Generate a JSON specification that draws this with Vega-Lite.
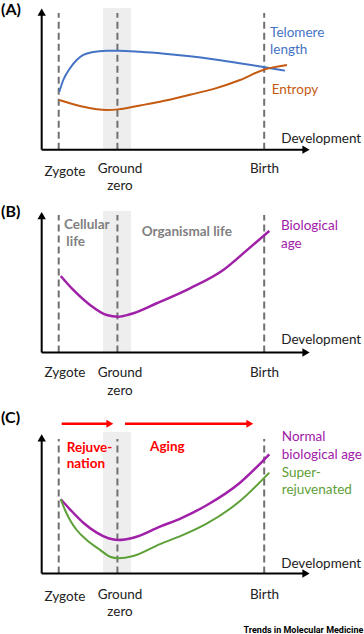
{
  "$schema": "https://vega.github.io/schema/vega-lite/v6.json",
  "padding": 0,
  "spacing": 0,
  "background": "white",
  "config": {"view": {"stroke": null}, "font": "Lato", "text": {"font": "Lato"}},
  "resolve": {"scale": {"x": "independent", "y": "independent", "shape": "independent"}},
  "vconcat": [
    {
      "width": 364, "height": 200,
      "encoding": {
        "x": {"field": "x", "type": "quantitative", "scale": {"domain": [-1, 5.2], "nice": false, "zero": false}, "axis": null},
        "y": {"field": "y", "type": "quantitative", "scale": {"domain": [-3.6, 10.7], "nice": false, "zero": false}, "axis": null}
      },
      "layer": [
        {"data": {"values": [{"x": 0.754, "x2": 1.231, "y": 0, "y2": 10.13}]},
         "mark": {"type": "rect", "color": "#EEEEEE"},
         "encoding": {"x2": {"field": "x2"}, "y2": {"field": "y2"}}},
        {"data": {"values": [{"x": 0, "y": 0, "y2": 9.77}, {"x": 1, "y": 0, "y2": 9.77}, {"x": 3.5, "y": 0, "y2": 9.77}]},
         "mark": {"type": "rule", "color": "#707070", "strokeWidth": 2, "strokeDash": [7, 4]},
         "encoding": {"y2": {"field": "y2"}}},
        {"data": {"values": [{"x": -0.29, "x2": -0.29, "y": 0, "y2": 9.84}, {"x": -0.29, "x2": 4.212, "y": 0, "y2": 0}]},
         "mark": {"type": "rule", "color": "black", "strokeWidth": 2},
         "encoding": {"x2": {"field": "x2"}, "y2": {"field": "y2"}}},
        {"data": {"values": [{"x": -0.29, "y": 9.84, "dir": "up"}, {"x": 4.212, "y": 0, "dir": "right"}]},
         "mark": {"type": "point", "filled": true, "color": "black", "opacity": 1, "size": 70},
         "encoding": {"shape": {"field": "dir", "type": "nominal", "scale": {"domain": ["up", "right"], "range": ["triangle-up", "triangle-right"]}, "legend": null}}},
        {"data": {"values": [
          {"x": 0.01, "y": 4.14}, {"x": 0.078, "y": 4.98}, {"x": 0.192, "y": 5.82}, {"x": 0.306, "y": 6.41},
          {"x": 0.419, "y": 6.77}, {"x": 0.589, "y": 6.98}, {"x": 0.817, "y": 7.07}, {"x": 1.015, "y": 7.08},
          {"x": 1.385, "y": 7.0}, {"x": 1.8, "y": 6.86}, {"x": 2.236, "y": 6.67}, {"x": 2.628, "y": 6.46},
          {"x": 3.08, "y": 6.18}, {"x": 3.48, "y": 5.91}, {"x": 3.854, "y": 5.65}]},
         "mark": {"type": "line", "color": "#4472C4", "strokeWidth": 2, "interpolate": "monotone"}},
        {"data": {"values": [
          {"x": 0.01, "y": 3.55}, {"x": 0.419, "y": 3.07}, {"x": 0.817, "y": 2.84}, {"x": 1.015, "y": 2.88},
          {"x": 1.385, "y": 3.16}, {"x": 1.725, "y": 3.43}, {"x": 2.236, "y": 3.93}, {"x": 2.628, "y": 4.33},
          {"x": 3.088, "y": 4.98}, {"x": 3.48, "y": 5.7}, {"x": 3.888, "y": 6.05}]},
         "mark": {"type": "line", "color": "#C55A11", "strokeWidth": 2, "interpolate": "monotone"}},
        {"data": {"values": [{"x": -0.983, "y": 9.63, "t": "(A)"}]},
         "mark": {"type": "text", "align": "left", "baseline": "alphabetic", "fontSize": 16, "fontWeight": "bold", "color": "black"},
         "encoding": {"text": {"field": "t"}}},
        {"data": {"values": [{"x": 3.6, "y": 8.08, "t": "Telomere"}, {"x": 3.6, "y": 6.84, "t": "length"}]},
         "mark": {"type": "text", "align": "left", "baseline": "alphabetic", "fontSize": 13.5, "color": "#4472C4"},
         "encoding": {"text": {"field": "t"}}},
        {"data": {"values": [{"x": 3.628, "y": 4.0, "t": "Entropy"}]},
         "mark": {"type": "text", "align": "left", "baseline": "alphabetic", "fontSize": 13.5, "color": "#C55A11"},
         "encoding": {"text": {"field": "t"}}},
        {"data": {"values": [{"x": 3.79, "y": 0.475, "t": "Development"}]},
         "mark": {"type": "text", "align": "left", "baseline": "alphabetic", "fontSize": 13.5, "color": "#222222"},
         "encoding": {"text": {"field": "t"}}},
        {"data": {"values": [{"x": 0.107, "y": -1.88, "t": "Zygote"}, {"x": 1.044, "y": -1.69, "t": "Ground"}, {"x": 1.044, "y": -2.88, "t": "zero"}, {"x": 3.505, "y": -1.69, "t": "Birth"}]},
         "mark": {"type": "text", "align": "center", "baseline": "alphabetic", "fontSize": 13.5, "color": "#222222"},
         "encoding": {"text": {"field": "t"}}}
      ]
    },
    {
      "width": 364, "height": 210,
      "encoding": {
        "x": {"field": "x", "type": "quantitative", "scale": {"domain": [-1, 5.2], "nice": false, "zero": false}, "axis": null},
        "y": {"field": "y", "type": "quantitative", "scale": {"domain": [-4.11, 10.9], "nice": false, "zero": false}, "axis": null}
      },
      "layer": [
        {"data": {"values": [{"x": 0.754, "x2": 1.231, "y": 0, "y2": 10.12}]},
         "mark": {"type": "rect", "color": "#EEEEEE"},
         "encoding": {"x2": {"field": "x2"}, "y2": {"field": "y2"}}},
        {"data": {"values": [{"x": 0, "y": 0, "y2": 9.83}, {"x": 1, "y": 0, "y2": 9.83}, {"x": 3.5, "y": 0, "y2": 9.83}]},
         "mark": {"type": "rule", "color": "#707070", "strokeWidth": 2, "strokeDash": [7, 4]},
         "encoding": {"y2": {"field": "y2"}}},
        {"data": {"values": [{"x": -0.29, "x2": -0.29, "y": 0, "y2": 9.78}, {"x": -0.29, "x2": 4.212, "y": 0, "y2": 0}]},
         "mark": {"type": "rule", "color": "black", "strokeWidth": 2},
         "encoding": {"x2": {"field": "x2"}, "y2": {"field": "y2"}}},
        {"data": {"values": [{"x": -0.29, "y": 9.78, "dir": "up"}, {"x": 4.212, "y": 0, "dir": "right"}]},
         "mark": {"type": "point", "filled": true, "color": "black", "opacity": 1, "size": 70},
         "encoding": {"shape": {"field": "dir", "type": "nominal", "scale": {"domain": ["up", "right"], "range": ["triangle-up", "triangle-right"]}, "legend": null}}},
        {"data": {"values": [
          {"x": 0.034, "y": 5.47}, {"x": 0.249, "y": 4.47}, {"x": 0.533, "y": 3.4}, {"x": 0.817, "y": 2.68},
          {"x": 1.015, "y": 2.56}, {"x": 1.214, "y": 2.73}, {"x": 1.669, "y": 3.52}, {"x": 2.236, "y": 4.59},
          {"x": 2.803, "y": 5.9}, {"x": 3.202, "y": 7.3}, {"x": 3.587, "y": 8.69}]},
         "mark": {"type": "line", "color": "#A020A8", "strokeWidth": 2.5, "interpolate": "monotone"}},
        {"data": {"values": [{"x": -0.983, "y": 9.69, "t": "(B)"}]},
         "mark": {"type": "text", "align": "left", "baseline": "alphabetic", "fontSize": 16, "fontWeight": "bold", "color": "black"},
         "encoding": {"text": {"field": "t"}}},
        {"data": {"values": [{"x": 0.09, "y": 8.83, "t": "Cellular"}, {"x": 0.13, "y": 7.64, "t": "life"}, {"x": 1.414, "y": 8.35, "t": "Organismal life"}]},
         "mark": {"type": "text", "align": "left", "baseline": "alphabetic", "fontSize": 13.5, "fontWeight": "bold", "color": "#7F7F7F"},
         "encoding": {"text": {"field": "t"}}},
        {"data": {"values": [{"x": 3.786, "y": 8.76, "t": "Biological"}, {"x": 3.786, "y": 7.47, "t": "age"}]},
         "mark": {"type": "text", "align": "left", "baseline": "alphabetic", "fontSize": 13.5, "color": "#A020A8"},
         "encoding": {"text": {"field": "t"}}},
        {"data": {"values": [{"x": 3.79, "y": 0.61, "t": "Development"}]},
         "mark": {"type": "text", "align": "left", "baseline": "alphabetic", "fontSize": 13.5, "color": "#222222"},
         "encoding": {"text": {"field": "t"}}},
        {"data": {"values": [{"x": 0.107, "y": -1.77, "t": "Zygote"}, {"x": 1.044, "y": -1.73, "t": "Ground"}, {"x": 1.044, "y": -3.04, "t": "zero"}, {"x": 3.505, "y": -1.73, "t": "Birth"}]},
         "mark": {"type": "text", "align": "center", "baseline": "alphabetic", "fontSize": 13.5, "color": "#222222"},
         "encoding": {"text": {"field": "t"}}}
      ]
    },
    {
      "width": 364, "height": 224,
      "encoding": {
        "x": {"field": "x", "type": "quantitative", "scale": {"domain": [-1, 5.2], "nice": false, "zero": false}, "axis": null},
        "y": {"field": "y", "type": "quantitative", "scale": {"domain": [-4.4, 11.62], "nice": false, "zero": false}, "axis": null}
      },
      "layer": [
        {"data": {"values": [{"x": 0.754, "x2": 1.231, "y": 0, "y2": 10.12}]},
         "mark": {"type": "rect", "color": "#EEEEEE"},
         "encoding": {"x2": {"field": "x2"}, "y2": {"field": "y2"}}},
        {"data": {"values": [{"x": 0, "y": 0, "y2": 9.62}, {"x": 1, "y": 0, "y2": 9.62}, {"x": 3.5, "y": 0, "y2": 9.62}]},
         "mark": {"type": "rule", "color": "#707070", "strokeWidth": 2, "strokeDash": [7, 4]},
         "encoding": {"y2": {"field": "y2"}}},
        {"data": {"values": [{"x": -0.29, "x2": -0.29, "y": 0, "y2": 9.69}, {"x": -0.29, "x2": 4.212, "y": 0, "y2": 0}]},
         "mark": {"type": "rule", "color": "black", "strokeWidth": 2},
         "encoding": {"x2": {"field": "x2"}, "y2": {"field": "y2"}}},
        {"data": {"values": [{"x": -0.29, "y": 9.69, "dir": "up"}, {"x": 4.212, "y": 0, "dir": "right"}]},
         "mark": {"type": "point", "filled": true, "color": "black", "opacity": 1, "size": 70},
         "encoding": {"shape": {"field": "dir", "type": "nominal", "scale": {"domain": ["up", "right"], "range": ["triangle-up", "triangle-right"]}, "legend": null}}},
        {"data": {"values": [{"x": 0.051, "x2": 0.86, "y": 10.71, "y2": 10.71}, {"x": 1.129, "x2": 3.25, "y": 10.71, "y2": 10.71}]},
         "mark": {"type": "rule", "color": "#FF0000", "strokeWidth": 2.5},
         "encoding": {"x2": {"field": "x2"}, "y2": {"field": "y2"}}},
        {"data": {"values": [{"x": 0.871, "y": 10.71, "dir": "right"}, {"x": 3.255, "y": 10.71, "dir": "right"}]},
         "mark": {"type": "point", "filled": true, "color": "#FF0000", "opacity": 1, "size": 64},
         "encoding": {"shape": {"field": "dir", "type": "nominal", "scale": {"domain": ["up", "right"], "range": ["triangle-up", "triangle-right"]}, "legend": null}}},
        {"data": {"values": [
          {"x": 0.034, "y": 5.31}, {"x": 0.192, "y": 4.59}, {"x": 0.419, "y": 3.63}, {"x": 0.647, "y": 2.92},
          {"x": 0.845, "y": 2.52}, {"x": 1.015, "y": 2.4}, {"x": 1.27, "y": 2.56}, {"x": 1.725, "y": 3.35},
          {"x": 2.1, "y": 3.98}, {"x": 2.52, "y": 4.88}, {"x": 3.088, "y": 6.49}, {"x": 3.587, "y": 8.52}]},
         "mark": {"type": "line", "color": "#A020A8", "strokeWidth": 2.5, "interpolate": "monotone"}},
        {"data": {"values": [
          {"x": 0.034, "y": 5.31}, {"x": 0.107, "y": 4.54}, {"x": 0.192, "y": 3.83}, {"x": 0.306, "y": 3.11},
          {"x": 0.477, "y": 2.4}, {"x": 0.703, "y": 1.69}, {"x": 0.874, "y": 1.2}, {"x": 1.015, "y": 1.09},
          {"x": 1.27, "y": 1.25}, {"x": 1.725, "y": 2.1}, {"x": 2.1, "y": 2.72}, {"x": 2.52, "y": 3.56},
          {"x": 3.088, "y": 5.18}, {"x": 3.587, "y": 7.21}]},
         "mark": {"type": "line", "color": "#5EA038", "strokeWidth": 2, "interpolate": "monotone"}},
        {"data": {"values": [{"x": -0.983, "y": 10.76, "t": "(C)"}]},
         "mark": {"type": "text", "align": "left", "baseline": "alphabetic", "fontSize": 16, "fontWeight": "bold", "color": "black"},
         "encoding": {"text": {"field": "t"}}},
        {"data": {"values": [{"x": 0.136, "y": 8.7, "t": "Rejuve-"}, {"x": 0.136, "y": 7.52, "t": "nation"}, {"x": 1.555, "y": 8.76, "t": "Aging"}]},
         "mark": {"type": "text", "align": "left", "baseline": "alphabetic", "fontSize": 13.5, "fontWeight": "bold", "color": "#FF0000"},
         "encoding": {"text": {"field": "t"}}},
        {"data": {"values": [{"x": 3.8, "y": 9.47, "t": "Normal"}, {"x": 3.8, "y": 8.17, "t": "biological age"}]},
         "mark": {"type": "text", "align": "left", "baseline": "alphabetic", "fontSize": 13.5, "color": "#A020A8"},
         "encoding": {"text": {"field": "t"}}},
        {"data": {"values": [{"x": 3.8, "y": 6.92, "t": "Super-"}, {"x": 3.8, "y": 5.66, "t": "rejuvenated"}]},
         "mark": {"type": "text", "align": "left", "baseline": "alphabetic", "fontSize": 13.5, "color": "#5EA038"},
         "encoding": {"text": {"field": "t"}}},
        {"data": {"values": [{"x": 3.79, "y": 0.41, "t": "Development"}]},
         "mark": {"type": "text", "align": "left", "baseline": "alphabetic", "fontSize": 13.5, "color": "#222222"},
         "encoding": {"text": {"field": "t"}}},
        {"data": {"values": [{"x": 0.107, "y": -1.97, "t": "Zygote"}, {"x": 1.044, "y": -1.84, "t": "Ground"}, {"x": 1.044, "y": -3.04, "t": "zero"}, {"x": 3.505, "y": -1.84, "t": "Birth"}]},
         "mark": {"type": "text", "align": "center", "baseline": "alphabetic", "fontSize": 13.5, "color": "#222222"},
         "encoding": {"text": {"field": "t"}}},
        {"data": {"values": [{"x": 5.188, "y": -4.25, "t": "Trends in Molecular Medicine"}]},
         "mark": {"type": "text", "align": "right", "baseline": "alphabetic", "fontSize": 9, "fontWeight": "bold", "font": "Liberation Sans Narrow, Roboto, sans-serif", "letterSpacing": -0.3, "color": "black"},
         "encoding": {"text": {"field": "t"}}}
      ]
    }
  ]
}
